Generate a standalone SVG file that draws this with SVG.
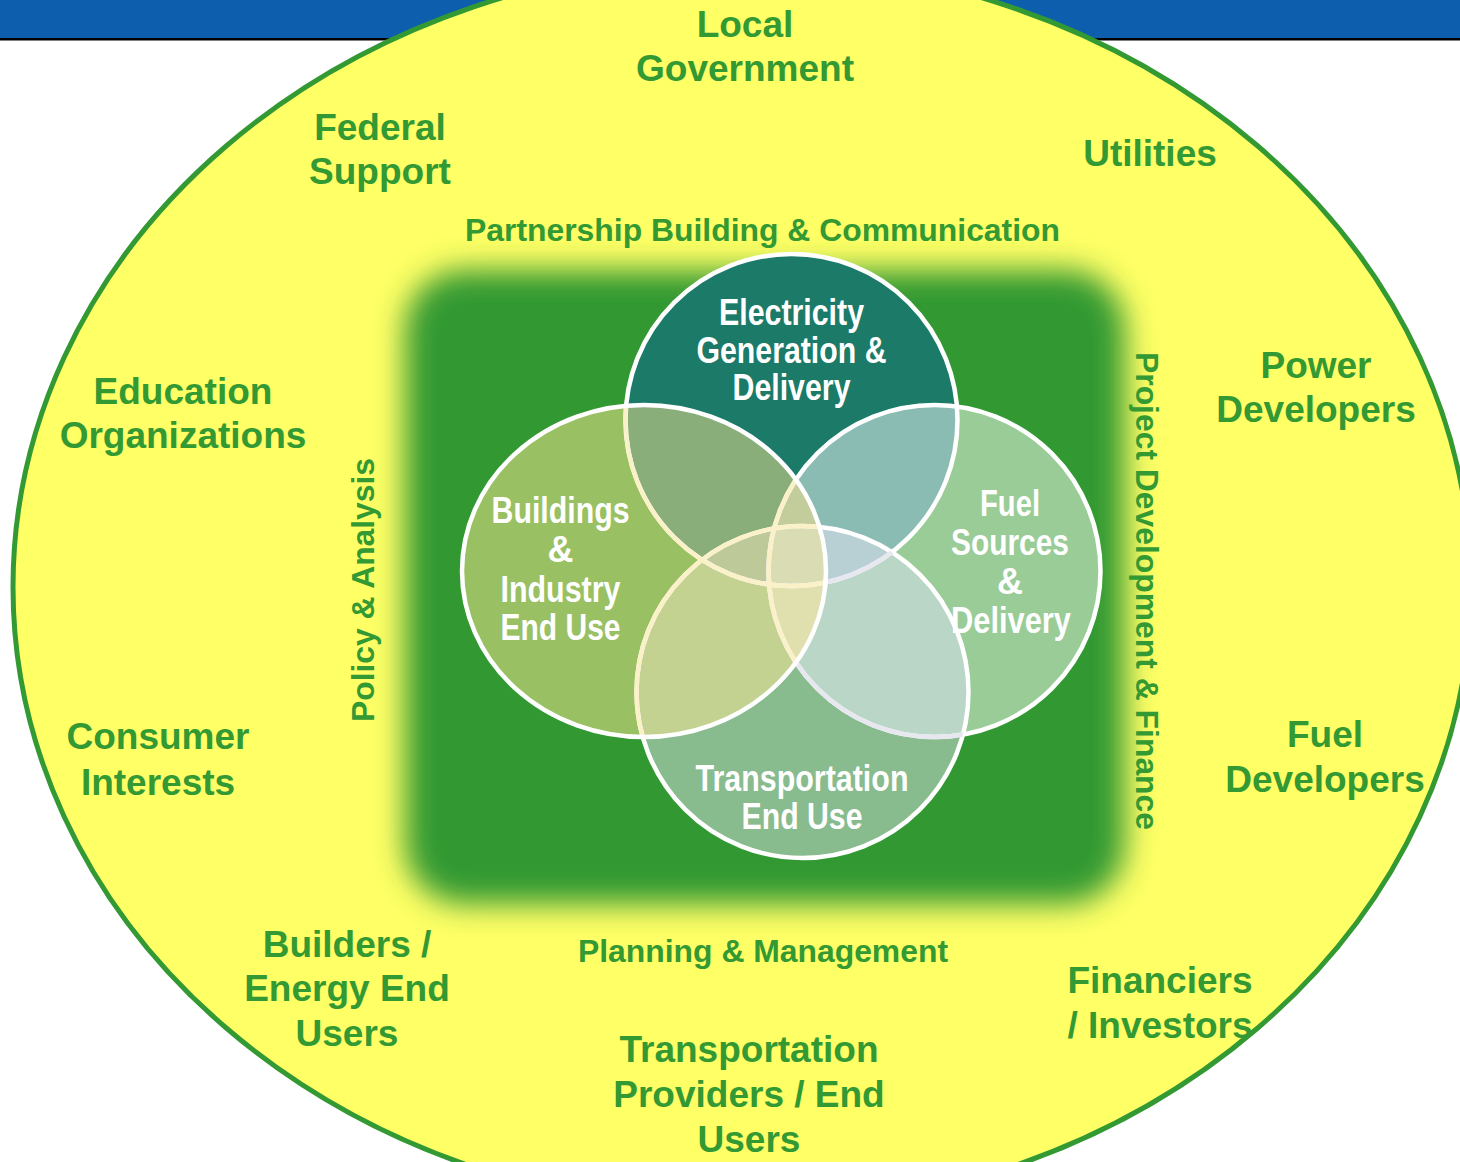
<svg xmlns="http://www.w3.org/2000/svg" xmlns:xlink="http://www.w3.org/1999/xlink" width="1460" height="1162" viewBox="0 0 1460 1162">
<style>
.outer{font-family:"Liberation Sans",Arial,sans-serif;font-weight:bold;font-size:37px;fill:#339933;text-anchor:middle}
.band{font-family:"Liberation Sans",Arial,sans-serif;font-weight:bold;font-size:32px;fill:#339933;text-anchor:middle}
.venn{font-family:"Liberation Sans Narrow","Liberation Sans",Arial,sans-serif;font-weight:bold;font-size:36px;fill:#ffffff;text-anchor:middle}
.ring{fill:none;stroke-width:4.5}
</style>
<defs>
<filter id="soft" x="-15%" y="-15%" width="130%" height="130%">
<feGaussianBlur stdDeviation="15"/>
</filter>
<clipPath id="cT"><ellipse cx="791.5" cy="420" rx="166" ry="166"/></clipPath>
<clipPath id="cL"><ellipse cx="644" cy="571" rx="182" ry="166"/></clipPath>
<clipPath id="cR"><ellipse cx="934.5" cy="571" rx="166" ry="166"/></clipPath>
<clipPath id="cB"><ellipse cx="802.5" cy="692" rx="166" ry="166"/></clipPath>
<ellipse id="eT" cx="791.5" cy="420" rx="166" ry="166"/>
<ellipse id="eL" cx="644" cy="571" rx="182" ry="166"/>
<ellipse id="eR" cx="934.5" cy="571" rx="166" ry="166"/>
<ellipse id="eB" cx="802.5" cy="692" rx="166" ry="166"/>
</defs>

<rect width="1460" height="1162" fill="#ffffff"/>
<rect x="0" y="0" width="1460" height="38" fill="#0d5fae"/>
<rect x="0" y="38" width="1460" height="2.5" fill="#000000"/>

<ellipse id="stakeholder-ring" cx="742" cy="587" rx="729" ry="624" fill="#ffff66" stroke="#339933" stroke-width="5"/>

<rect id="core-field" x="405" y="270" width="720" height="634" rx="60" fill="#339933" filter="url(#soft)"/>

<g id="local-government"><text class="outer" x="745" y="37">Local</text><text class="outer" x="745" y="81">Government</text></g>
<g id="federal-support"><text class="outer" x="380" y="140">Federal</text><text class="outer" x="380" y="184">Support</text></g>
<g id="utilities"><text class="outer" x="1150" y="166">Utilities</text></g>
<g id="education-organizations"><text class="outer" x="183" y="404">Education</text><text class="outer" x="183" y="448">Organizations</text></g>
<g id="consumer-interests"><text class="outer" x="158" y="749">Consumer</text><text class="outer" x="158" y="795">Interests</text></g>
<g id="power-developers"><text class="outer" x="1316" y="378">Power</text><text class="outer" x="1316" y="422">Developers</text></g>
<g id="fuel-developers"><text class="outer" x="1325" y="747">Fuel</text><text class="outer" x="1325" y="792">Developers</text></g>
<g id="builders-energy-end-users"><text class="outer" x="347" y="957">Builders /</text><text class="outer" x="347" y="1001">Energy End</text><text class="outer" x="347" y="1046">Users</text></g>
<g id="transportation-providers"><text class="outer" x="749" y="1062">Transportation</text><text class="outer" x="749" y="1107">Providers / End</text><text class="outer" x="749" y="1152">Users</text></g>
<g id="financiers-investors"><text class="outer" x="1160" y="993">Financiers</text><text class="outer" x="1160" y="1038">/ Investors</text></g>

<g id="partnership-building"><text class="band" x="762.5" y="241" textLength="595" lengthAdjust="spacingAndGlyphs">Partnership Building &amp; Communication</text></g>
<g id="planning-management"><text class="band" x="763" y="962" textLength="370" lengthAdjust="spacingAndGlyphs">Planning &amp; Management</text></g>
<g id="policy-analysis"><text class="band" transform="translate(374,590) rotate(-90)" x="0" y="0" textLength="264" lengthAdjust="spacingAndGlyphs">Policy &amp; Analysis</text></g>
<g id="project-development-finance"><text class="band" transform="translate(1136,591) rotate(90)" x="0" y="0" textLength="478" lengthAdjust="spacingAndGlyphs">Project Development &amp; Finance</text></g>

<g id="electricity-generation">
<use xlink:href="#eT" href="#eT" fill="#1b7a68"/>
</g>
<g id="fuel-sources">
<use xlink:href="#eR" href="#eR" fill="#9acc98"/>
</g>
<g id="transportation-end-use">
<use xlink:href="#eB" href="#eB" fill="#88bb8e"/>
</g>
<g id="buildings-industry">
<use xlink:href="#eL" href="#eL" fill="#99c062"/>
</g>

<g id="overlaps">
<g clip-path="url(#cT)"><use xlink:href="#eL" href="#eL" fill="#8aae7a"/><use xlink:href="#eR" href="#eR" fill="#8abcb4"/><use xlink:href="#eB" href="#eB" fill="#b8d0d4"/></g>
<g clip-path="url(#cB)"><use xlink:href="#eL" href="#eL" fill="#c3d290"/><use xlink:href="#eR" href="#eR" fill="#bad6c6"/></g>
<g clip-path="url(#cL)"><use xlink:href="#eR" href="#eR" fill="#dcdcb0"/></g>
<g clip-path="url(#cT)"><g clip-path="url(#cL)"><use xlink:href="#eB" href="#eB" fill="#bec99a"/><use xlink:href="#eR" href="#eR" fill="#c3cd9c"/></g></g>
<g clip-path="url(#cT)"><g clip-path="url(#cR)"><use xlink:href="#eB" href="#eB" fill="#b8d0d4"/></g></g>
<g clip-path="url(#cB)"><g clip-path="url(#cL)"><use xlink:href="#eR" href="#eR" fill="#e0e0ae"/></g></g>
<g clip-path="url(#cT)"><g clip-path="url(#cB)"><g clip-path="url(#cL)"><use xlink:href="#eR" href="#eR" fill="#dadcb4"/></g></g></g>
</g>

<g id="outlines">
<use xlink:href="#eT" href="#eT" class="ring" stroke="#ffffff"/>
<use xlink:href="#eR" href="#eR" class="ring" stroke="#ffffff"/>
<use xlink:href="#eB" href="#eB" class="ring" stroke="#ffffff"/>
<g clip-path="url(#cB)"><use xlink:href="#eT" href="#eT" class="ring" stroke="#e7e7ef"/><use xlink:href="#eR" href="#eR" class="ring" stroke="#e7e7ef"/></g>
<g clip-path="url(#cL)"><use xlink:href="#eT" href="#eT" class="ring" stroke="#fbf1c8"/><use xlink:href="#eR" href="#eR" class="ring" stroke="#fbf1c8"/><use xlink:href="#eB" href="#eB" class="ring" stroke="#fbf1c8"/></g>
<use xlink:href="#eL" href="#eL" class="ring" stroke="#ffffff"/>
</g>

<g id="venn-labels">
<text class="venn" x="791.5" y="325" textLength="145" lengthAdjust="spacingAndGlyphs">Electricity</text>
<text class="venn" x="791.5" y="363" textLength="190" lengthAdjust="spacingAndGlyphs">Generation &amp;</text>
<text class="venn" x="791.5" y="400" textLength="118" lengthAdjust="spacingAndGlyphs">Delivery</text>
<text class="venn" x="560.5" y="523" textLength="138" lengthAdjust="spacingAndGlyphs">Buildings</text>
<text class="venn" x="560.5" y="562">&amp;</text>
<text class="venn" x="560.5" y="602" textLength="120" lengthAdjust="spacingAndGlyphs">Industry</text>
<text class="venn" x="560.5" y="640" textLength="120" lengthAdjust="spacingAndGlyphs">End Use</text>
<text class="venn" x="1010" y="516" textLength="60" lengthAdjust="spacingAndGlyphs">Fuel</text>
<text class="venn" x="1010" y="555" textLength="118" lengthAdjust="spacingAndGlyphs">Sources</text>
<text class="venn" x="1010" y="594">&amp;</text>
<text class="venn" x="1011" y="633" textLength="120" lengthAdjust="spacingAndGlyphs">Delivery</text>
<text class="venn" x="802" y="791" textLength="213" lengthAdjust="spacingAndGlyphs">Transportation</text>
<text class="venn" x="802" y="829" textLength="121" lengthAdjust="spacingAndGlyphs">End Use</text>
</g>
</svg>
